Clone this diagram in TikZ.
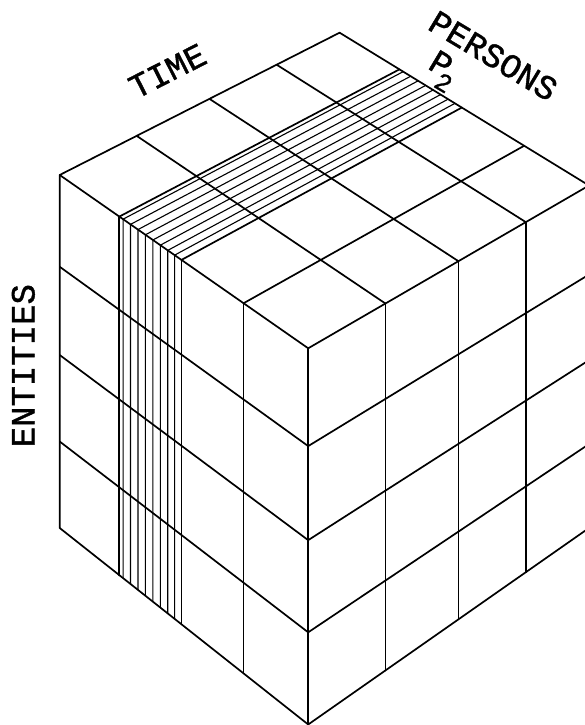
\documentclass[tikz,border=0pt]{standalone}
\usepackage{fontspec}
\newfontfamily\plotfont[FakeBold=1.2]{Liberation Mono}
\usepackage{xcolor}
\definecolor{cInk}{HTML}{000000}
\usepackage{tikz}
\usetikzlibrary{calc}
\tikzset{
  grid-line/.style={draw=cInk,line width=1.7pt,line cap=round,line join=round},
  hatch-line/.style={draw=cInk,line width=1.1pt,line cap=round},
  axis-label/.style={inner sep=0pt,text=cInk,
    font=\plotfont\fontsize{34}{34}\selectfont},
}

\begin{document}
\begin{tikzpicture}[x=1pt,y=1pt]
  \clip (0,0) rectangle (585,725);
  % corners of the cube: top face L,B,R,F and the bottom ones
  \coordinate (L) at (59.7,550);
  \coordinate (B) at (339.6,692.3);
  \coordinate (R) at (589,539.5);
  \coordinate (F) at (308.2,376.7);
  \coordinate (Lb) at (59.7,197);
  \coordinate (Fb) at (308.2,0.5);
  \coordinate (Rb) at (589,197);

  % slice P2 (hatched)
  \foreach \t in {0.255,0.285,0.315,0.345,0.375,0.405,0.435,0.4625}
    \draw[hatch-line] ($(Lb)!\t!(Fb)$) -- ($(L)!\t!(F)$) -- ($(B)!\t!(R)$);

  % top face
  \foreach \t in {0.24,0.49,0.74}
    \draw[grid-line] ($(L)!\t!(F)$) -- ($(B)!\t!(R)$);
  \foreach \t in {0.275,0.535,0.775}
    \draw[grid-line] ($(L)!\t!(B)$) -- ($(F)!\t!(R)$);
  % left face
  \foreach \t in {0.24,0.49,0.74}
    \draw[grid-line] ($(L)!\t!(F)$) -- ($(Lb)!\t!(Fb)$);
  \foreach \t in {0.26,0.51,0.755}
    \draw[grid-line] ($(L)!\t!(Lb)$) -- ($(F)!\t!(Fb)$);
  % right face
  \foreach \t in {0.275,0.535,0.775}
    \draw[grid-line] ($(F)!\t!(R)$) -- ($(Fb)!\t!(Rb)$);
  \foreach \t in {0.26,0.51,0.755}
    \draw[grid-line] ($(F)!\t!(Fb)$) -- ($(R)!\t!(Rb)$);
  % outline
  \draw[grid-line] (L) -- (B) -- (R) -- (Rb) -- (Fb) -- (Lb) -- cycle;
  \draw[grid-line] (L) -- (F) -- (R);
  \draw[grid-line] (F) -- (Fb);

  % axis names
  \node[axis-label,rotate=27] (time-label) at (167.5,654) {TIME};
  \node[axis-label,rotate=-31] (persons-label) at (493.3,669.2) {PERSONS};
  \node[axis-label,rotate=-31] (p2-label) at (442,653.5)
    {P\kern-0.18em\raisebox{-0.37em}{\fontsize{26}{26}\selectfont 2}};
  \node[axis-label,rotate=90] (entities-label) at (23.3,359.3) {ENTITIES};
\end{tikzpicture}
\end{document}
